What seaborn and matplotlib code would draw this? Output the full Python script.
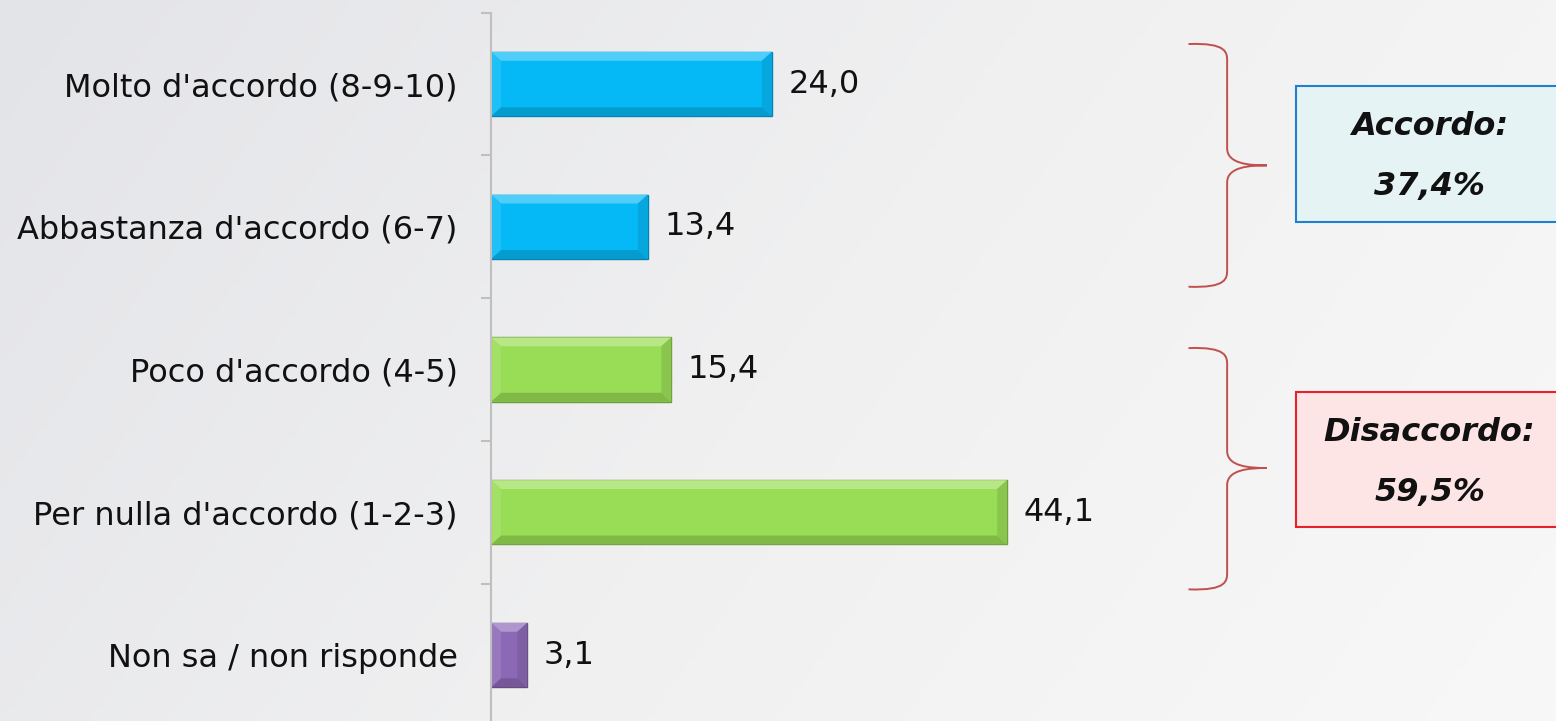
import numpy as np
import pandas as pd
import matplotlib
matplotlib.use("Agg")
import matplotlib.pyplot as plt
import matplotlib.colors as mcolors
from matplotlib.patches import Polygon, Rectangle, PathPatch
from matplotlib.path import Path
import seaborn as sns

# data
categories = ["Molto d'accordo (8-9-10)", "Abbastanza d'accordo (6-7)", "Poco d'accordo (4-5)",
              "Per nulla d'accordo (1-2-3)", "Non sa / non risponde"]
values = [24.0, 13.4, 15.4, 44.1, 3.1]
bar_colors = ["#05B9F7", "#05B9F7", "#99DC55", "#99DC55", "#8C69B6"]
group_labels = [["Accordo:", "37,4%"], ["Disaccordo:", "59,5%"]]

df = pd.DataFrame({"cat": categories, "val": values})

sns.set_style("white")
plt.rcParams['font.family'] = ['DejaVu Sans']

fig = plt.figure(figsize=(15.56, 7.21), dpi=100)

# background gradient
bg = fig.add_axes([0, 0, 1, 1], zorder=-10)
gx = np.linspace(0, 1, 300)
gy = np.linspace(0, 1, 150)
GX, GY = np.meshgrid(gx, gy)
grad = np.clip(0.75 * GX + 0.25 * GY, 0, 1)
cmap_bg = mcolors.LinearSegmentedColormap.from_list("bg", ["#E3E4E8", "#F0F0F1", "#F8F8F8"])
bg.imshow(grad, cmap=cmap_bg, aspect="auto", extent=[0, 1, 0, 1], origin="upper")
bg.axis("off")

# main axes
ax = fig.add_axes([491 / 1556, -5.4 / 721, 1 - 491 / 1556, 713.75 / 721])
ax.patch.set_alpha(0)
sns.barplot(data=df, x="val", y="cat", hue="cat", palette=dict(zip(categories, bar_colors)),
            legend=False, width=0.45, orient="h", ax=ax, saturation=1)
ax.set_xlim(0, 91)
ax.set_ylim(4.5, -0.5)
ax.set_xlabel("")
ax.set_ylabel("")
ax.set_xticks([])

for s in ["top", "right", "bottom"]:
    ax.spines[s].set_visible(False)
ax.spines["left"].set_color("#BFBFBF")
ax.spines["left"].set_linewidth(1.5)

ax.tick_params(axis="y", which="major", left=False, length=0, pad=24, labelsize=23, labelcolor="#111111")
ax.set_yticks(np.arange(-0.5, 5, 1), minor=True)
ax.tick_params(axis="y", which="minor", left=True, length=7.5, width=1.5, color="#BFBFBF",
               direction="out")

# bevel effect on each bar
bx, by = 0.85, 0.062
for p in ax.patches:
    w = p.get_width()
    if not w or np.isnan(w):
        continue
    x0, y0 = p.get_x(), p.get_y()
    x1, y1 = x0 + w, y0 + p.get_height()
    base = np.array(mcolors.to_rgb(p.get_facecolor()))
    light = base + (1 - base) * 0.3
    dark = base * 0.84
    darker = base * 0.7
    p.set_edgecolor(darker)
    p.set_linewidth(1.0)
    bxx = min(bx, w / 3)
    faces = [
        ([(x0, y0), (x1, y0), (x1 - bxx, y0 + by), (x0 + bxx, y0 + by)], light),
        ([(x0, y1), (x1, y1), (x1 - bxx, y1 - by), (x0 + bxx, y1 - by)], dark),
        ([(x1, y0), (x1, y1), (x1 - bxx, y1 - by), (x1 - bxx, y0 + by)], base * 0.9),
        ([(x0, y0), (x0, y1), (x0 + bxx, y1 - by), (x0 + bxx, y0 + by)], base + (1 - base) * 0.1),
    ]
    for pts, c in faces:
        ax.add_patch(Polygon(pts, closed=True, facecolor=c, edgecolor="none", zorder=p.get_zorder() + 0.1))

# value labels
for cont in ax.containers:
    ax.bar_label(cont, fmt=lambda v: f"{v:.1f}".replace(".", ","), padding=12, fontsize=23,
                 color="#111111")


# braces
def brace(ax, xl, xm, xt, ya, ytip, yb, color="#C0504D"):
    r = 0.06
    verts = [(xl, ya), (xm, ya - 0.01), (xm, ya + r), (xm, ya + 2 * r),
             (xm, ytip - 2 * r),
             (xm, ytip - 0.01), (xt - 1.5, ytip), (xt, ytip),
             (xt - 1.5, ytip), (xm, ytip + 0.01), (xm, ytip + 2 * r),
             (xm, yb - 2 * r),
             (xm, yb - r), (xm, yb + 0.01), (xl, yb)]
    codes = [Path.MOVETO, Path.CURVE4, Path.CURVE4, Path.CURVE4,
             Path.LINETO,
             Path.CURVE4, Path.CURVE4, Path.CURVE4,
             Path.CURVE4, Path.CURVE4, Path.CURVE4,
             Path.LINETO,
             Path.CURVE4, Path.CURVE4, Path.CURVE4]
    ax.add_patch(PathPatch(Path(verts, codes), facecolor="none", edgecolor=color, lw=1.4, clip_on=False))


brace(ax, 59.6, 62.9, 66.3, -0.28, 0.57, 1.42)
brace(ax, 59.6, 62.9, 66.3, 1.85, 2.69, 3.54)

# group boxes
ax.add_patch(Rectangle((68.8, 0.014), 30, 0.953, facecolor="#E5F3F5", edgecolor="#1F80CF",
                       lw=1.5, clip_on=False))
ax.add_patch(Rectangle((68.8, 2.158), 30, 0.942, facecolor="#FDE5E5", edgecolor="#E8202A",
                       lw=1.5, clip_on=False))
for (l1, l2), yc in zip(group_labels, [0.51, 2.65]):
    ax.text(80.2, yc - 0.21, l1, ha="center", va="center", fontsize=23, fontweight="bold",
            fontstyle="italic", color="#111111")
    ax.text(80.2, yc + 0.21, l2, ha="center", va="center", fontsize=23, fontweight="bold",
            fontstyle="italic", color="#111111")

fig.savefig("out.png", dpi=100)
